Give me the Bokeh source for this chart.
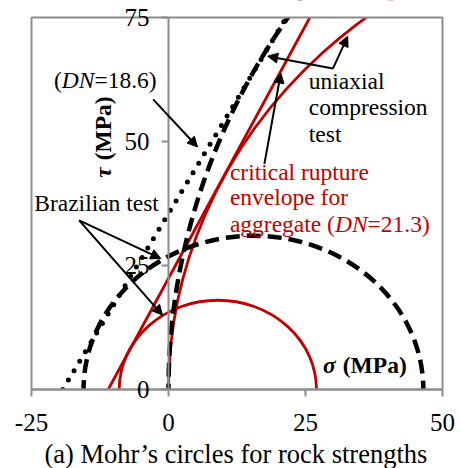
import math
from bokeh.plotting import figure
from bokeh.models import Range1d, FixedTicker, Arrow, NormalHead, CustomJSTickFormatter
from bokeh.core.properties import value
from bokeh.embed import file_html
from bokeh.resources import INLINE

# ---------------- data ----------------
x_ticks = [-25, 0, 25, 50]
y_ticks = [0, 25, 50, 75]
x_lim = [-25, 50]
y_lim = [0, 75]

# Mohr's circles: (sigma3, sigma1) in MPa
brazil_186 = [-15.5, 46.5]     # Brazilian test, DN = 18.6 (black dashed)
ucs_186 = [0.0, 280.0]         # uniaxial compression, DN = 18.6 (black dashed)
brazil_213 = [-9.0, 27.0]      # Brazilian test, DN = 21.3 (red)
ucs_213 = [0.0, 192.0]         # uniaxial compression, DN = 21.3 (red)

# rupture envelopes (sigma, tau)
env_186_sigma = [-19.3, 21.5]
env_186_tau = [0.0, 75.0]
env_213_sigma = [-11.0, 25.8]
env_213_tau = [0.0, 75.0]

# annotation arrows: (x_start, y_start, x_end, y_end)
arrows = [
    (-2.8, 58.5, 5.3, 48.9),     # (DN=18.6)
    (-16.3, 34.1, -1.4, 26.4),   # Brazilian test -> black circle
    (-16.3, 34.1, -1.1, 15.0),   # Brazilian test -> red circle
    (30.0, 64.7, 18.1, 67.2),    # uniaxial -> black
    (30.0, 64.7, 32.7, 71.2),    # uniaxial -> red
    (17.5, 45.5, 20.5, 63.8),    # critical rupture envelope
]

TITLE = "(a) Mohr\u2019s circles for rock strengths"

FONT_NAME = "Liberation Serif"
FONT = value(FONT_NAME)
BLACK = "black"
RED = "#c00000"
GRAY = "#8c8c8c"

# ---------------- layout (pixels) ----------------
W, H = 461, 468
BOX_L, BOX_R, BOX_T, BOX_B = 31, 442, 17, 389
kx = (x_lim[1] - x_lim[0]) / (BOX_R - BOX_L)
ky = (y_lim[1] - y_lim[0]) / (BOX_B - BOX_T)
xr = Range1d(x_lim[0] - BOX_L * kx, x_lim[1] + (W - BOX_R) * kx)
yr = Range1d(y_lim[0] - (H - BOX_B) * ky, y_lim[1] + BOX_T * ky)

p = figure(width=W, height=H, output_backend="svg", toolbar_location=None,
           x_range=xr, y_range=yr)
p.min_border = 0
p.min_border_left = 0
p.min_border_right = 0
p.min_border_top = 0
p.min_border_bottom = 0
p.xgrid.visible = False
p.ygrid.visible = False
p.outline_line_color = None
p.background_fill_color = "white"
p.border_fill_color = "white"

for ax, ticks, lim in ((p.xaxis[0], x_ticks, x_lim), (p.yaxis[0], y_ticks, y_lim)):
    ax.ticker = FixedTicker(ticks=ticks)
    ax.bounds = (lim[0], lim[1])
    ax.fixed_location = 0
    ax.axis_line_color = GRAY
    ax.axis_line_width = 2
    ax.major_tick_line_color = GRAY
    ax.major_tick_line_width = 2
    ax.major_tick_out = 7
    ax.major_tick_in = 0
    ax.minor_tick_line_color = None
    ax.major_label_text_font = FONT_NAME
    ax.major_label_text_font_size = "25px"
    ax.major_label_text_color = "black"
    ax.formatter = CustomJSTickFormatter(code="return tick.toString()")

p.xaxis[0].major_label_standoff = 17
p.yaxis[0].major_label_standoff = 12


def circle(s3s1, color, width, dash):
    c = (s3s1[0] + s3s1[1]) / 2.0
    d = s3s1[1] - s3s1[0]
    p.ellipse(x=[c], y=[0], width=[d], height=[d], fill_color=None,
              line_color=color, line_width=width, line_dash=dash)


# red (DN = 21.3)
circle(brazil_213, RED, 2.8, "solid")
circle(ucs_213, RED, 2.8, "solid")
p.line(env_213_sigma, env_213_tau, line_color=RED, line_width=2.8)

# black (DN = 18.6)
p.line(env_186_sigma, env_186_tau, line_color=BLACK, line_width=5,
       line_dash="0 11", line_cap="round")
circle(brazil_186, BLACK, 4.5, "14 7")
circle(ucs_186, BLACK, 4.5, "14 7")

# white masks outside the plot box, then the box itself
pad_x = 0.2 * (xr.end - xr.start)
pad_y = 0.2 * (yr.end - yr.start)
p.quad(left=[xr.start - pad_x], right=[xr.end + pad_x], bottom=[yr.start - pad_y], top=[y_lim[0]],
       fill_color="white", fill_alpha=1.0, line_color=None)
p.quad(left=[xr.start - pad_x], right=[xr.end + pad_x], bottom=[y_lim[1]], top=[yr.end + pad_y],
       fill_color="white", fill_alpha=1.0, line_color=None)
p.quad(left=[x_lim[0]], right=[x_lim[1]], bottom=[y_lim[0]], top=[y_lim[1]],
       fill_color=None, line_color=GRAY, line_width=2)

for (x0, y0, x1, y1) in arrows:
    p.add_layout(Arrow(end=NormalHead(size=10, fill_color=BLACK, line_color=BLACK, line_width=1),
                       x_start=x0, y_start=y0, x_end=x1, y_end=y1,
                       line_color=BLACK, line_width=2))

DY = 8  # pixels to raise the text baseline


def rich(x, y, pieces, size, color):
    off = 0.0
    for txt, style, w in pieces:
        p.text(x=[x], y=[y], text=[txt], x_offset=off, y_offset=-DY, text_font=FONT,
               text_font_size=f"{size}px", text_font_style=style,
               text_color=color, text_align="left", text_baseline="alphabetic")
        off += w * size


S = 23.5
rich(-20.9, 60.8, [("(", "normal", 0.333), ("DN", "italic", 1.389), ("=18.6)", "normal", 2.7)], S, BLACK)
rich(-24.5, 35.9, [("Brazilian test", "normal", 6)], S, BLACK)
rich(25.6, 60.6, [("uniaxial", "normal", 4)], S, BLACK)
rich(25.6, 55.4, [("compression", "normal", 6)], S, BLACK)
rich(25.6, 49.9, [("test", "normal", 2)], S, BLACK)
rich(11.2, 42.3, [("critical rupture", "normal", 6)], S, RED)
rich(11.2, 37.1, [("envelope for", "normal", 6)], S, RED)
rich(11.2, 31.7, [("aggregate (", "normal", 4.47), ("DN", "italic", 1.389), ("=21.3)", "normal", 2.7)], S, RED)
rich(28.2, 3.3, [("\u03c3", "bold italic", 0.84), ("(MPa)", "bold", 3)], S, BLACK)

# vertical axis title, reading upwards
p.text(x=[-11.9], y=[42.7], text=["\u03c4"], angle=math.pi / 2, text_font=FONT,
       text_font_size=f"{S}px", text_font_style="bold italic", text_color=BLACK,
       text_align="left", text_baseline="alphabetic")
p.text(x=[-11.9], y=[46.2], text=["(MPa)"], angle=math.pi / 2, text_font=FONT,
       text_font_size=f"{S}px", text_font_style="bold", text_color=BLACK,
       text_align="left", text_baseline="alphabetic")

# caption below the axis
p.text(x=[(x_lim[0] + x_lim[1]) / 2 - 0.2], y=[-14.7], text=[TITLE], y_offset=-DY,
       text_font=FONT, text_font_size="26.5px", text_color=BLACK,
       text_align="center", text_baseline="alphabetic")

open("out.html", "w").write(file_html(p, INLINE))
